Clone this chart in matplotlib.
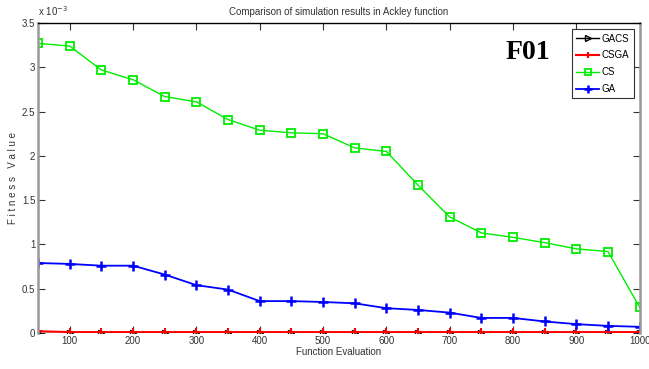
import numpy as np
import matplotlib
matplotlib.use("Agg")
from matplotlib import pyplot as plt
from matplotlib.ticker import FuncFormatter

plt.rcParams['font.family'] = ['Liberation Sans Narrow', 'Liberation Sans', 'DejaVu Sans']

evals = [50, 100, 150, 200, 250, 300, 350, 400, 450, 500,
         550, 600, 650, 700, 750, 800, 850, 900, 950, 1000]
# fitness values in units of 1e-3
gacs = [0.005] * 20
csga = [0.02, 0.01, 0.01, 0.01, 0.01, 0.01, 0.01, 0.01, 0.01, 0.01,
        0.01, 0.01, 0.01, 0.01, 0.01, 0.01, 0.01, 0.01, 0.01, 0.01]
cs = [3.27, 3.24, 2.97, 2.86, 2.67, 2.61, 2.41, 2.29, 2.26, 2.25,
      2.09, 2.05, 1.67, 1.31, 1.13, 1.08, 1.02, 0.95, 0.92, 0.29]
ga = [0.79, 0.78, 0.76, 0.76, 0.66, 0.54, 0.49, 0.36, 0.36, 0.35,
      0.335, 0.28, 0.26, 0.23, 0.17, 0.17, 0.13, 0.10, 0.08, 0.07]

x = np.array(evals)
fig = plt.figure(figsize=(6.49, 3.69), dpi=100)
ax = fig.add_axes([0.0586, 0.0976, 0.927, 0.84])

ax.plot(x, np.array(gacs) * 1e-3, color='black', marker='>', ms=5, lw=1,
        mfc='none', label='GACS')
ax.plot(x, np.array(csga) * 1e-3, color='red', marker='+', ms=6, mew=1.5, lw=1.5,
        label='CSGA')
ax.plot(x, np.array(cs) * 1e-3, color='#00ee00', marker='s', ms=6, mfc='none',
        mew=1.3, lw=1, label='CS')
ax.plot(x, np.array(ga) * 1e-3, color='blue', marker='+', ms=7, mew=1.8, lw=1.3,
        label='GA')

ax.set_xlim(50, 1000)
ax.set_ylim(0, 3.5e-3)
ax.set_xticks(range(100, 1001, 100))
ax.set_yticks(np.arange(0, 3.51e-3, 0.5e-3))
ax.yaxis.set_major_formatter(FuncFormatter(lambda v, p: ('%g' % round(v * 1e3, 2))))
ax.tick_params(direction='in', top=True, right=True, labelsize=7, colors='#333333',
               length=5, pad=2)
for s in ['left', 'right']:
    ax.spines[s].set_color('#999999')
    ax.spines[s].set_linewidth(1.8)
ax.spines['top'].set_linewidth(1)
ax.spines['bottom'].set_visible(False)

ax.text(0.0, 1.015, 'x 10$^{-3}$', transform=ax.transAxes, fontsize=7,
        color='#333333', va='bottom', ha='left')
ax.set_title('Comparison of simulation results in Ackley function', fontsize=7,
             color='#333333', pad=6)
ax.set_xlabel('Function Evaluation', fontsize=7, color='#333333', labelpad=1)
ax.set_ylabel('F i t n e s s   V a l u e', fontsize=7, color='#333333', labelpad=3)

ax.text(0.815, 0.905, 'F01', transform=ax.transAxes, fontsize=20, fontweight='bold',
        family=['Liberation Serif', 'DejaVu Serif'], ha='center', va='center')

leg = ax.legend(loc='upper right', fontsize=7, fancybox=False, framealpha=1,
                edgecolor='#333333', handlelength=2.3, handletextpad=0.3,
                borderpad=0.45, borderaxespad=0, labelspacing=0.7,
                markerscale=0.8, bbox_to_anchor=(0.99, 0.98))
leg.get_frame().set_linewidth(0.8)

fig.savefig('out.png', dpi=100)
